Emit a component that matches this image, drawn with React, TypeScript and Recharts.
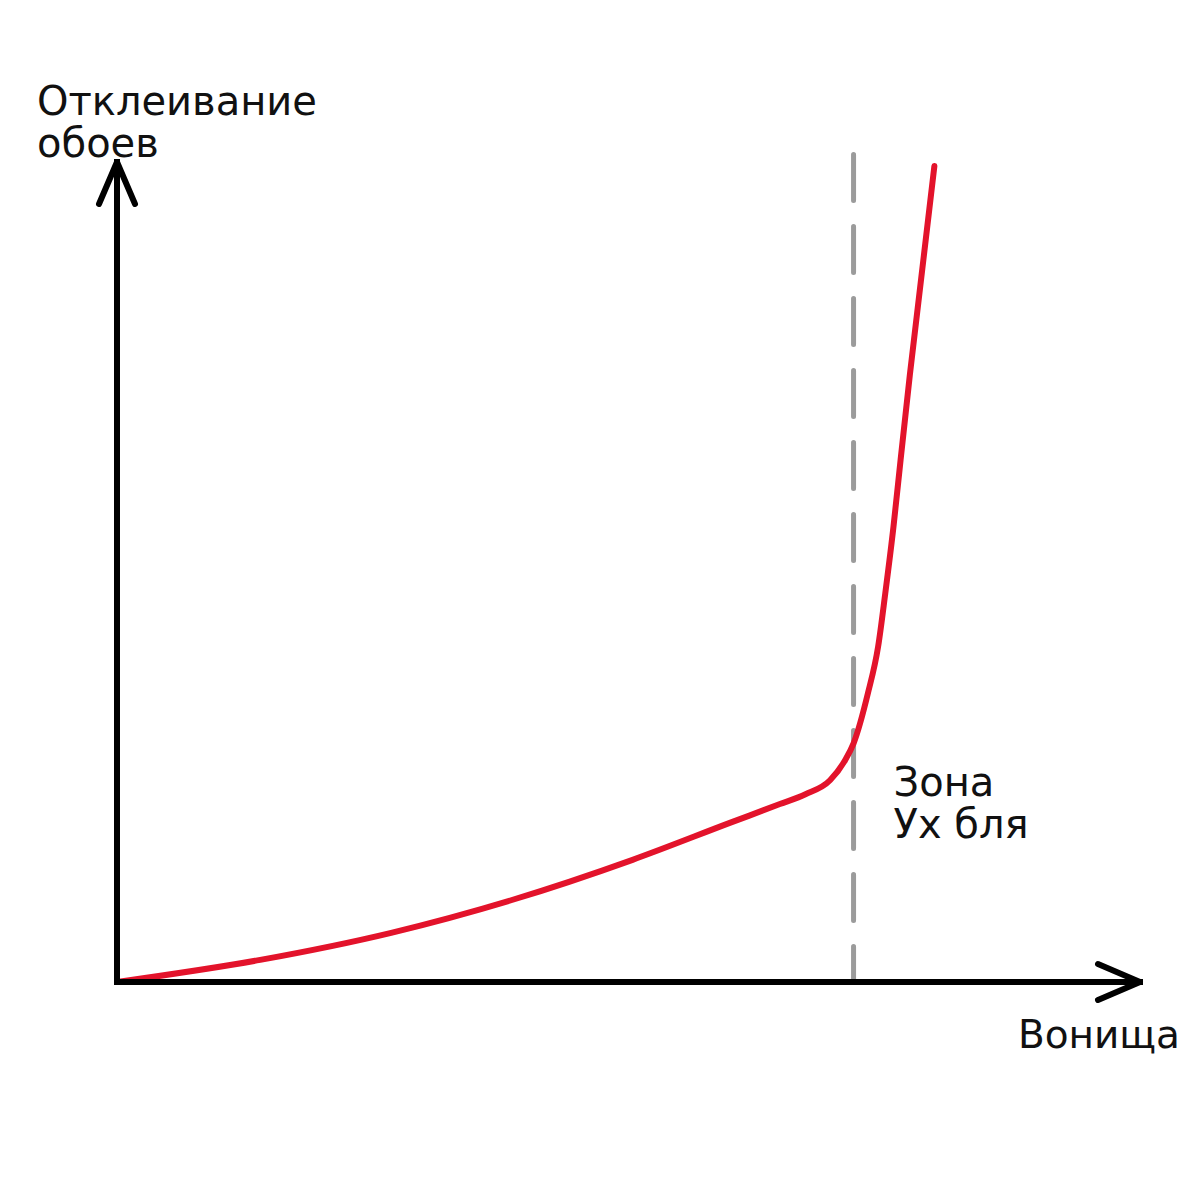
import React from "react";
import { LineChart, Line, XAxis, YAxis, ReferenceLine, Label } from "recharts";

// Вонища (x) vs Отклеивание обоев (y), arbitrary 0..100 units
const smell = [0, 14.0, 26.8, 38.6, 50.4, 59.9, 64.8, 67.3, 69.7, 71.2, 72.0, 73.4, 74.4, 75.1, 75.9, 76.6, 77.5, 79.9];
const peeling = [0, 2.7, 6.0, 10.0, 14.9, 19.4, 21.7, 22.9, 24.6, 27.1, 29.1, 35.2, 40.9, 47.4, 55.5, 63.7, 74.0, 99.5];

const zoneX = 72;
const zoneTop = 100.9;
const yTitle = ["Отклеивание", "обоев"];
const xTitle = "Вонища";
const zoneTitle = ["Зона", "Ух бля"];

const data = smell.map((x, i) => ({ x, y: peeling[i] }));

const font = "'DejaVu Sans', Verdana, sans-serif";

const YTitle = (props: any) => {
    const { x, y, width } = props.viewBox;
    const left = x + width - 80;
    return (
        <text x={left} y={y - 47} fontFamily={font} fontSize={40} fill="#111">
            <tspan x={left}>{yTitle[0]}</tspan>
            <tspan x={left} dy={42}>{yTitle[1]}</tspan>
        </text>
    );
};

const XTitle = (props: any) => {
    const { x, y, width } = props.viewBox;
    return (
        <text x={x + width + 40} y={y + 66} textAnchor="end" fontFamily={font} fontSize={39} fill="#111">
            {xTitle}
        </text>
    );
};

const ZoneTitle = (props: any) => {
    const { x, y, height } = props.viewBox;
    const left = x + 40;
    const base = y + height - 186;
    return (
        <text x={left} y={base} fontFamily={font} fontSize={40} fill="#111">
            <tspan x={left}>{zoneTitle[0]}</tspan>
            <tspan x={left} dy={42}>{zoneTitle[1]}</tspan>
        </text>
    );
};

export default function App() {
    return (
        <div style={{ position: "absolute", left: 0, top: 0, width: 1200, height: 1200, background: "#fff" }}>
            <LineChart width={1200} height={1200} data={data} margin={{ top: 162, right: 60, bottom: 217, left: 116 }}>
                <defs>
                    <marker
                        id="arrow"
                        viewBox="-50 -25 60 50"
                        refX={0}
                        refY={0}
                        markerWidth={60}
                        markerHeight={50}
                        markerUnits="userSpaceOnUse"
                        orient="auto-start-reverse"
                        overflow="visible"
                    >
                        <path d="M -42 -18 L 0 0 L -42 18" fill="none" stroke="#000" strokeWidth={6} strokeLinecap="round" strokeLinejoin="round" />
                    </marker>
                </defs>
                <XAxis
                    type="number"
                    dataKey="x"
                    domain={[0, 100]}
                    allowDataOverflow
                    height={1}
                    tick={false}
                    tickLine={false}
                    axisLine={{ stroke: "#000", strokeWidth: 6, strokeLinecap: "square", markerEnd: "url(#arrow)" }}
                >
                    <Label content={XTitle} />
                </XAxis>
                <YAxis
                    type="number"
                    dataKey="y"
                    domain={[0, 100]}
                    allowDataOverflow
                    width={1}
                    tick={false}
                    tickLine={false}
                    axisLine={{ stroke: "#000", strokeWidth: 6, strokeLinecap: "square", markerStart: "url(#arrow)" }}
                >
                    <Label content={YTitle} />
                </YAxis>
                <ReferenceLine
                    segment={[{ x: zoneX, y: zoneTop }, { x: zoneX, y: 0 }]}
                    ifOverflow="visible"
                    stroke="#9b9b9b"
                    strokeWidth={5}
                    strokeDasharray="46 26"
                    strokeLinecap="round"
                >
                    <Label content={ZoneTitle} />
                </ReferenceLine>
                <Line
                    type="monotone"
                    dataKey="y"
                    stroke="#e3132b"
                    strokeWidth={6}
                    strokeLinecap="round"
                    dot={false}
                    activeDot={false}
                    isAnimationActive={false}
                />
            </LineChart>
        </div>
    );
}
